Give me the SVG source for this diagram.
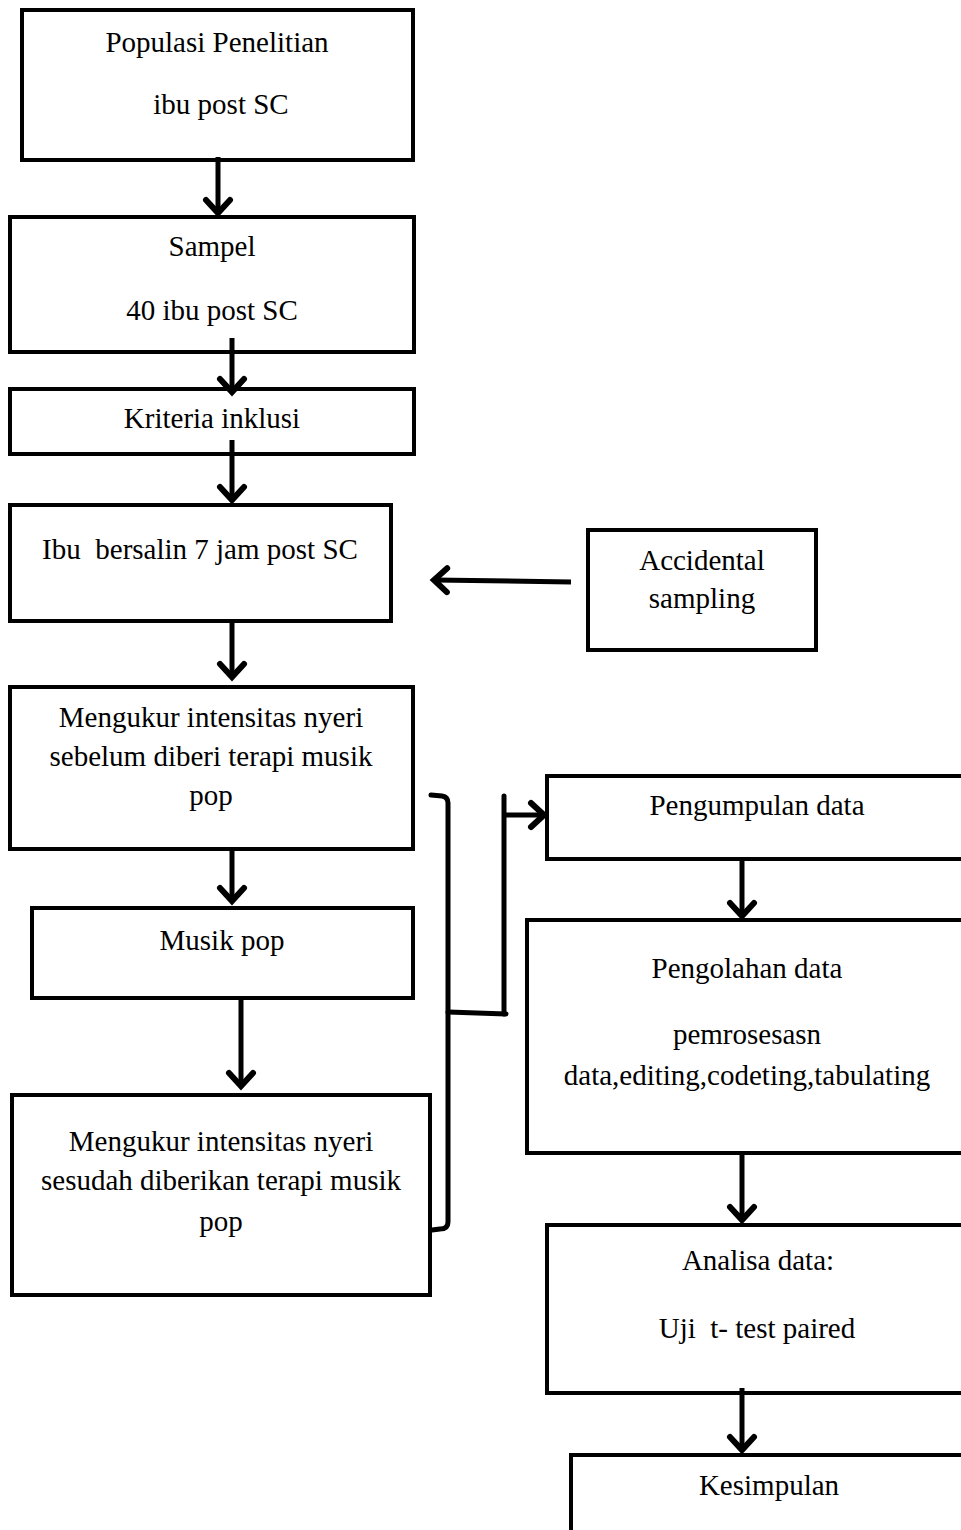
<svg xmlns="http://www.w3.org/2000/svg" width="961" height="1530" viewBox="0 0 961 1530">
<style>
.box{fill:#fff;stroke:#000;stroke-width:4}
.t{font-family:"Liberation Serif","Times New Roman",serif;font-size:29px;fill:#000;text-anchor:middle;white-space:pre}
.c{fill:none;stroke:#000;stroke-width:5;stroke-linecap:round;stroke-linejoin:round}
.ca{fill:none;stroke:#000;stroke-width:5;marker-end:url(#ah)}
</style>
<defs>
<marker id="ah" markerUnits="userSpaceOnUse" markerWidth="40" markerHeight="40" viewBox="-20 -20 40 40" refX="0" refY="0" orient="auto" overflow="visible">
<path d="M-13 -12 L0 0 L-13 12" fill="none" stroke="#000" stroke-width="6" stroke-linecap="round" stroke-linejoin="miter"/>
</marker>
</defs>
<rect width="961" height="1530" fill="#fff"/>
<g id="n1"><rect class="box" x="22" y="10" width="391" height="150"/><text class="t" x="217" y="52">Populasi Penelitian</text><text class="t" x="221" y="114">ibu post SC</text></g>
<g id="n2"><rect class="box" x="10" y="217" width="404" height="135"/><text class="t" x="212" y="256">Sampel</text><text class="t" x="212" y="320">40 ibu post SC</text></g>
<g id="n3"><rect class="box" x="10" y="389" width="404" height="65"/><text class="t" x="212" y="428">Kriteria inklusi</text></g>
<g id="n4"><rect class="box" x="10" y="505" width="381" height="116"/><text class="t" x="200" y="559">Ibu  bersalin 7 jam post SC</text></g>
<g id="n5"><rect class="box" x="588" y="530" width="228" height="120"/><text class="t" x="702" y="570">Accidental</text><text class="t" x="702" y="608">sampling</text></g>
<g id="n6"><rect class="box" x="10" y="687" width="403" height="162"/><text class="t" x="211" y="727">Mengukur intensitas nyeri</text><text class="t" x="211" y="766">sebelum diberi terapi musik</text><text class="t" x="211" y="805">pop</text></g>
<g id="n7"><rect class="box" x="32" y="908" width="381" height="90"/><text class="t" x="222" y="950">Musik pop</text></g>
<g id="n8"><rect class="box" x="12" y="1095" width="418" height="200"/><text class="t" x="221" y="1151">Mengukur intensitas nyeri</text><text class="t" x="221" y="1190">sesudah diberikan terapi musik</text><text class="t" x="221" y="1231">pop</text></g>
<g id="n9"><rect class="box" x="547" y="776" width="430" height="83"/><text class="t" x="757" y="815">Pengumpulan data</text></g>
<g id="n10"><rect class="box" x="527" y="920" width="450" height="233"/><text class="t" x="747" y="978">Pengolahan data</text><text class="t" x="747" y="1044">pemrosesasn</text><text class="t" x="747" y="1085">data,editing,codeting,tabulating</text></g>
<g id="n11"><rect class="box" x="547" y="1225" width="430" height="168"/><text class="t" x="758" y="1270">Analisa data:</text><text class="t" x="757" y="1338">Uji  t- test paired</text></g>
<g id="n12"><rect class="box" x="571" y="1455" width="410" height="100"/><text class="t" x="769" y="1495">Kesimpulan</text></g>
<g id="connectors">
<line class="ca" x1="218" y1="157" x2="218" y2="213"/>
<line class="ca" x1="232" y1="338" x2="232" y2="392"/>
<line class="ca" x1="232" y1="440" x2="232" y2="500"/>
<line class="ca" x1="232" y1="621" x2="232" y2="677"/>
<line class="ca" x1="571" y1="582" x2="434" y2="580"/>
<line class="ca" x1="232" y1="849" x2="232" y2="901"/>
<line class="ca" x1="241" y1="998" x2="241" y2="1086"/>
<line class="ca" x1="742" y1="859" x2="742" y2="916"/>
<line class="ca" x1="742" y1="1153" x2="742" y2="1220"/>
<line class="ca" x1="742" y1="1388" x2="742" y2="1450"/>
<path class="c" d="M431 795 L442 796 Q448 797 448 803 L448 1222 Q448 1229 440 1229 L432 1230"/>
<path class="c" d="M448 1012 L506 1014"/>
<path class="c" d="M504 796 L504 1014"/>
<line class="ca" x1="504" y1="815" x2="544" y2="815"/>
</g>
</svg>
